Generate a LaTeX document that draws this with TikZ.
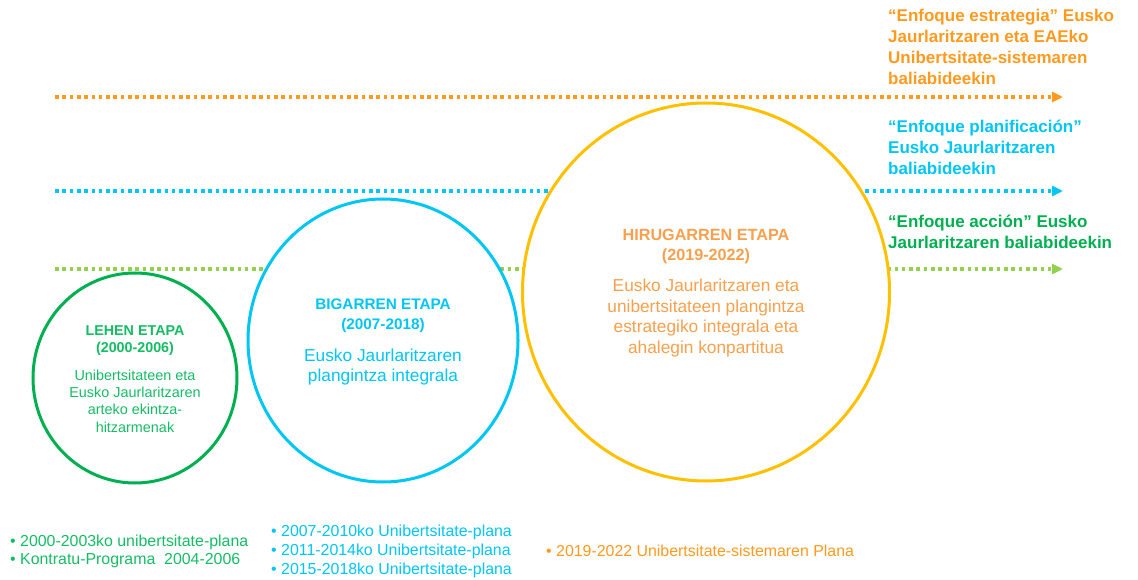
\documentclass[tikz,border=0pt]{standalone}
\usepackage{fontspec}
\setmainfont{Liberation Sans}
\usetikzlibrary{shapes.geometric,arrows.meta}

\definecolor{dgreen}{HTML}{00B050}
\definecolor{tgreen}{HTML}{14BD64}
\definecolor{lgreen}{HTML}{92D050}
\definecolor{skyblue}{HTML}{00C6F3}
\definecolor{gold}{HTML}{FFC000}
\definecolor{orng}{HTML}{FF9A1E}
\definecolor{lorng}{HTML}{F9A04C}

\tikzset{
	dotline/.style={line width=3.3pt, dash pattern=on 3.6pt off 3.7pt, -{Triangle[length=11pt,width=10pt]}},
	etapa/.style={ellipse, draw, line width=3pt, fill=white, inner sep=0pt},
	lbl/.style={inner sep=0pt, align=center},
	side/.style={inner sep=0pt, align=left, anchor=west, font=\bfseries\fontsize{17}{21}\selectfont},
	plan/.style={inner sep=0pt, align=left, anchor=west}
}

\begin{document}
\begin{tikzpicture}[x=1pt, y=-1pt]
		\useasboundingbox (0,0) rectangle (1138,580);

		\coordinate (os) at (55,97);
		\coordinate (oe) at (1063,97);
		\coordinate (bs) at (55,191);
		\coordinate (be) at (1063,191);
		\coordinate (gs) at (55,269);
		\coordinate (ge) at (1063,269);
		\draw[dotline, orng] (os) -- (oe);
		\draw[dotline, skyblue] (bs) -- (be);
		\draw[dotline, lgreen] (gs) -- (ge);

		\node[etapa, draw=dgreen, minimum width=204, minimum height=210] (lehen) at (135,378) {};
		\node[etapa, draw=skyblue, minimum width=270, minimum height=283] (bigarren) at (383,340.5) {};
		\node[etapa, draw=gold, minimum width=367, minimum height=378] (hirugarren) at (706,292) {};

		\node[lbl, text=tgreen, font=\bfseries\fontsize{14.3}{17.5}\selectfont] (lehentit) at (135,340.5) {LEHEN ETAPA\\(2000-2006)};
		\node[lbl, text=tgreen, font=\fontsize{14.4}{17.3}\selectfont] (lehentxt) at (135,401) {Unibertsitateen eta\\Eusko Jaurlaritzaren\\arteko ekintza-\\hitzarmenak};

		\node[lbl, text=skyblue, font=\bfseries\fontsize{15.3}{20}\selectfont] (bigtit) at (383,316) {BIGARREN ETAPA\\(2007-2018)};
		\node[lbl, text=skyblue, font=\fontsize{17.3}{20}\selectfont] (bigtxt) at (383,367) {Eusko Jaurlaritzaren\\plangintza integrala};

		\node[lbl, text=lorng, font=\bfseries\fontsize{16.2}{19.5}\selectfont] (hirutit) at (706,246.5) {HIRUGARREN ETAPA\\(2019-2022)};
		\node[lbl, text=lorng, font=\fontsize{17.3}{20.7}\selectfont] (hirutxt) at (706,318) {Eusko Jaurlaritzaren eta\\unibertsitateen plangintza\\estrategiko integrala eta\\ahalegin konpartitua};

		\node[side, text=orng] (estr) at (888,47) {“Enfoque estrategia” Eusko\\Jaurlaritzaren eta EAEko\\Unibertsitate-sistemaren\\baliabideekin};
		\node[side, text=skyblue] (plan) at (888,147) {“Enfoque planificación”\\Eusko Jaurlaritzaren\\baliabideekin};
		\node[side, text=dgreen] (acc) at (888,231.5) {“Enfoque acción” Eusko\\Jaurlaritzaren baliabideekin};

		\node[plan, text=tgreen, font=\fontsize{15.9}{18.7}\selectfont] (plang) at (10,551.5) {• 2000-2003ko unibertsitate-plana\\• Kontratu-Programa~ 2004-2006};
		\node[plan, text=skyblue, font=\fontsize{15.9}{18.7}\selectfont] (planb) at (271,551.5) {• 2007-2010ko Unibertsitate-plana\\• 2011-2014ko Unibertsitate-plana\\• 2015-2018ko Unibertsitate-plana};
		\node[plan, text=orng, font=\fontsize{15.9}{18.7}\selectfont] (plano) at (546,551) {• 2019-2022 Unibertsitate-sistemaren Plana};

\end{tikzpicture}
\end{document}
